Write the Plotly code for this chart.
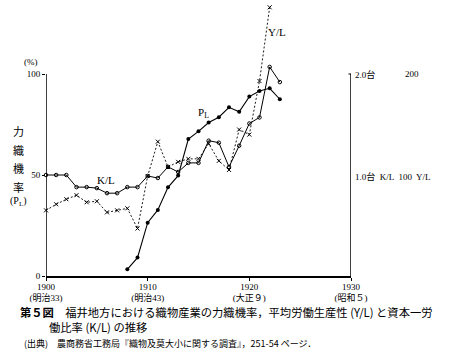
import plotly.graph_objects as go

# ---------------- data ----------------
years = list(range(1900, 1924))
# capital-labour ratio K/L (looms per worker, 台)
kl = [1.00, 1.00, 1.00, 0.88, 0.88, 0.87, 0.82, 0.82, 0.88, 0.88, 0.99, 0.97,
      1.08, 1.03, 1.12, 1.12, 1.34, 1.32, 1.08, 1.29, 1.51, 1.57, 2.07, 1.92]
# average labour productivity Y/L
yl_years = list(range(1900, 1923))
yl = [65, 71, 76, 80, 73, 74, 63, 65, 67, 47, 99, 133,
      108, 113, 116, 116, 131, 114, 105, 145, 140, 193, 266]
# power-loom ratio P_L (%)
pl_years = list(range(1908, 1924))
pl = [3.3, 9.1, 26.4, 32.7, 43.9, 49.7, 67.8, 71.6, 76.0, 78.6, 83.5, 81.3,
      88.8, 91.6, 92.9, 87.5]

x_ticks = [1900, 1910, 1920, 1930]
x_ticktext = ["1900<br>(明治33)", "1910<br>(明治43)", "1920<br>(大正９)", "1930<br>(昭和５)"]
y_ticks = [0, 50, 100]

# ---------------- layout geometry ----------------
W, H = 449, 357
L, R_ = 46, 98
T, B = 2, 81
plot_w = W - L - R_
plot_h = H - T - B
bottom_px = H - B
px_per_pct = 2.02
Y_TOP = plot_h / px_per_pct


def pxx(px):
    return (px - L) / plot_w


def pxy(py):
    return (bottom_px - py) / plot_h


SERIF = "Liberation Serif, DejaVu Serif, Noto Sans CJK JP, serif"
JP = "Noto Sans CJK JP, Liberation Serif, sans-serif"

fig = go.Figure()

fig.add_trace(go.Scatter(
    x=yl_years, y=yl, yaxis="y3", mode="lines+markers",
    line=dict(color="black", width=0.9, dash="2px,2px"),
    marker=dict(symbol="x-thin", size=4, line=dict(color="black", width=1)),
    cliponaxis=False, showlegend=False))

fig.add_trace(go.Scatter(
    x=years, y=kl, yaxis="y2", mode="lines+markers",
    line=dict(color="black", width=1),
    marker=dict(symbol="circle-open", size=3.5, color="black", line=dict(width=1)),
    cliponaxis=False, showlegend=False))

fig.add_trace(go.Scatter(
    x=pl_years, y=pl, mode="lines+markers",
    line=dict(color="black", width=1.1),
    marker=dict(symbol="circle", size=4, color="black"),
    cliponaxis=False, showlegend=False))

shapes = [
    # left axis line 0-100
    dict(type="line", xref="x", yref="y", x0=1900, x1=1900, y0=0, y1=100,
         line=dict(color="black", width=1.5)),
    # right axis line 0-100
    dict(type="line", xref="x", yref="y", x0=1930, x1=1930, y0=0, y1=100,
         line=dict(color="black", width=1.5)),
    # right axis ticks
    dict(type="line", xref="x", yref="y", x0=1929.75, x1=1930, y0=100, y1=100,
         line=dict(color="black", width=1)),
    dict(type="line", xref="x", yref="y", x0=1930, x1=1930.25, y0=50, y1=50,
         line=dict(color="black", width=1)),
]

annotations = []


def ann(text, px, py, size=10, family=SERIF, xanchor="center", yanchor="middle"):
    annotations.append(dict(text=text, x=pxx(px), y=pxy(py), xref="paper", yref="paper",
                            showarrow=False, xanchor=xanchor, yanchor=yanchor,
                            font=dict(size=size, family=family, color="black")))


ann("(%)", 31, 62, size=9)
for ch, py in zip(["力", "織", "機", "率"], [131, 150, 168, 187]):
    ann(ch, 18, py, size=11, family=JP)
ann("(P<sub>L</sub>)", 18, 201, size=10)

ann("K/L", 106, 180, size=11)
ann("P<sub>L</sub>", 203, 113, size=11)
ann("Y/L", 277, 32, size=11)

ann("2.0台", 353, 74, size=9, xanchor="left")
ann("200", 403, 74, size=9, xanchor="left")
ann("1.0台  K/L  100  Y/L", 353, 176, size=9, xanchor="left")

ann("<b>第５図</b>　福井地方における織物産業の力織機率，平均労働生産性 (Y/L) と資本一労",
    18, 312, size=11.3, family=JP, xanchor="left")
ann("働比率 (K/L) の推移", 47, 327, size=11.3, family=JP, xanchor="left")
ann("(出典)　農商務省工務局『織物及莫大小に関する調査』，251-54 ページ．",
    22, 343, size=9, family=JP, xanchor="left")

fig.update_layout(
    width=W, height=H,
    margin=dict(l=L, r=R_, t=T, b=B, pad=0),
    paper_bgcolor="white", plot_bgcolor="white",
    shapes=shapes, annotations=annotations,
    xaxis=dict(range=[1900, 1930], tickvals=x_ticks, ticktext=x_ticktext,
               ticks="outside", ticklen=3, tickcolor="black",
               showline=True, linecolor="black", linewidth=1.5,
               showgrid=False, zeroline=False, ticklabelstandoff=-2,
               tickfont=dict(size=9, family=SERIF, color="black")),
    yaxis=dict(range=[0, Y_TOP], tickvals=y_ticks,
               ticks="outside", ticklen=3, tickcolor="black",
               showline=False, showgrid=False, zeroline=False,
               tickfont=dict(size=9, family=SERIF, color="black")),
    yaxis2=dict(range=[0, Y_TOP / 50], overlaying="y", visible=False),
    yaxis3=dict(range=[0, Y_TOP * 2], overlaying="y", visible=False),
)

fig.write_html("out.html", config={"displayModeBar": False},
               post_script="document.body.style.margin='0';")
